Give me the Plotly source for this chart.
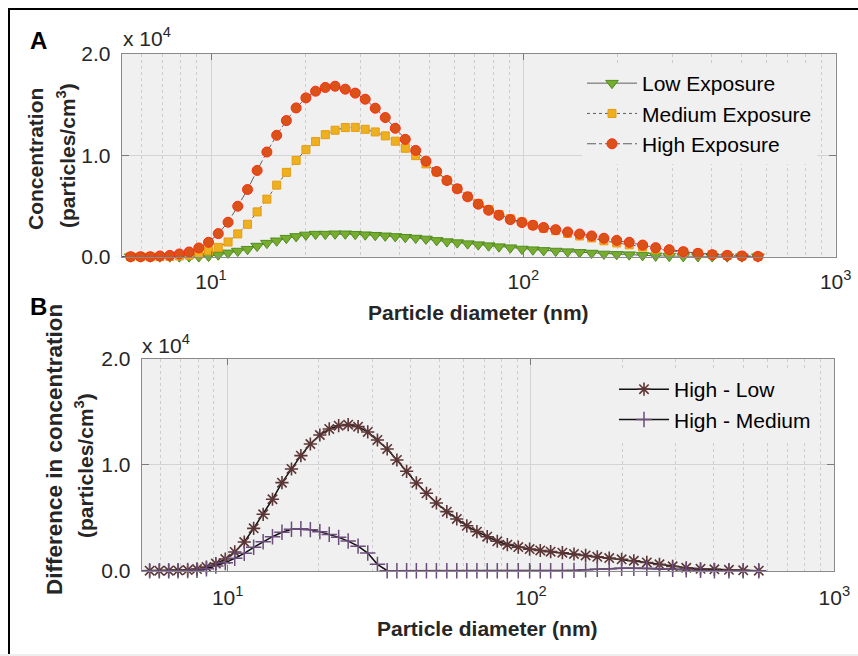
import plotly.graph_objects as go

# ---------------- data ----------------
diameter_nm = [5.15, 5.53, 5.95, 6.39, 6.86, 7.38, 7.92, 8.51, 9.14, 9.82,
               10.55, 11.34, 12.18, 13.09, 14.05, 15.10, 16.23, 17.43, 18.73, 20.13,
               21.62, 23.22, 24.96, 26.91, 28.96, 31.17, 33.56, 36.13, 38.90, 41.88,
               45.22, 48.77, 52.78, 56.93, 61.43, 66.32, 71.71, 77.42, 83.56, 90.80,
               98.97, 107.3, 116.1, 126.9, 138.6, 151.4, 165.4, 181.1, 199.0, 218.3,
               240.9, 265.2, 293.1, 325.0, 362.2, 402.4, 449.4, 500.8, 563.6]

low_exposure = [0, 0, 0, 0, 0, 0, 0, 0, 10, 60,
                190, 380, 560, 740, 1050, 1340, 1570, 1830, 2000, 2150,
                2230, 2230, 2260, 2260, 2220, 2170, 2120, 2060, 2000, 1920,
                1840, 1750, 1610, 1490, 1390, 1290, 1190, 1090, 990, 890,
                760, 690, 620, 560, 500, 430, 360, 270, 230, 200,
                130, 80, 50, 30, 20, 10, 0, 0, 0]

medium_exposure = [0, 0, 0, 0, 10, 30, 80, 150, 270, 590,
                   920, 1450, 2250, 3200, 4420, 5680, 7060, 8320, 9500, 10560,
                   11360, 12040, 12480, 12740, 12760, 12570, 12310, 11920, 11400, 10700,
                   9970, 9160, 8360, 7520, 6720, 5950, 5250, 4650, 4170, 3740,
                   3420, 3110, 2800, 2570, 2290, 2040, 1850, 1570, 1360, 1170,
                   950, 740, 590, 450, 330, 200, 130, 70, 30]

high_exposure = [0, 0, 0, 0, 70, 130, 270, 465, 860, 1420,
                 2280, 3400, 4980, 6630, 8510, 10330, 11980, 13430, 14680, 15670,
                 16330, 16700, 16820, 16530, 16140, 15540, 14650, 13730, 12670, 11580,
                 10490, 9430, 8410, 7520, 6700, 5910, 5180, 4580, 4090, 3660,
                 3370, 3100, 2880, 2670, 2440, 2240, 2050, 1820, 1610, 1420,
                 1150, 890, 690, 500, 330, 200, 130, 70, 30]

high_minus_low = [0, 0, 0, 0, 30, 60, 150, 340, 670, 1100,
                  1770, 2710, 4000, 5330, 6750, 8320, 9610, 10870, 11970, 12820,
                  13390, 13700, 13800, 13610, 13110, 12350, 11500, 10460, 9390, 8290,
                  7310, 6400, 5580, 4890, 4240, 3690, 3210, 2780, 2460, 2230,
                  2040, 1910, 1800, 1700, 1580, 1440, 1310, 1190, 1080, 940,
                  780, 600, 410, 270, 180, 130, 80, 40, 0]

high_minus_medium = [0, 0, 0, 0, 0, 20, 40, 190, 440, 760,
                     1170, 1640, 2210, 2740, 3210, 3630, 3910, 3960, 3880, 3690,
                     3430, 3150, 2800, 2320, 1670, 600, 0, 0, 0, 0,
                     0, 0, 0, 0, 0, 0, 0, 0, 0, 0,
                     0, 0, 0, 0, 30, 80, 140, 190, 220, 230,
                     220, 190, 140, 80, 30, 0, 0, 0, 0]

x_tick_vals = [10, 100, 1000]
x_tick_text = ["10<sup>1</sup>", "10<sup>2</sup>", "10<sup>3</sup>"]
x_minor_vals = [6, 7, 8, 9, 20, 30, 40, 50, 60, 70, 80, 90,
                200, 300, 400, 500, 600, 700, 800, 900]
y_tick_vals = [0, 10000, 20000]
y_tick_text = ["0.0", "1.0", "2.0"]

# ---------------- layout helpers ----------------
W, H = 858, 656
FONT = "Liberation Sans, Arial, sans-serif"
TXT = "#262626"
PLOT_BG = "#f0f0f0"


def px(x):
    return x / W


def py(y):
    return 1 - y / H


def x_axis(domain, rng, anchor, standoff):
    return dict(domain=domain, anchor=anchor, type="log", range=rng,
                tickmode="array", tickvals=x_tick_vals, ticktext=x_tick_text,
                ticks="inside", ticklen=6, tickcolor="#7a7a7a",
                showline=True, linecolor="#8a8a8a", linewidth=1, mirror="ticks",
                showgrid=True, gridcolor="#d4d4d4", gridwidth=1,
                minor=dict(tickmode="array", tickvals=x_minor_vals, showgrid=True,
                           gridcolor="#cccccc", griddash="dot", gridwidth=1, ticks=""),
                zeroline=False, tickfont=dict(family=FONT, size=21, color=TXT),
                ticklabelstandoff=standoff)


def y_axis(domain, anchor):
    return dict(domain=domain, anchor=anchor, range=[0, 20000],
                tickmode="array", tickvals=y_tick_vals, ticktext=y_tick_text,
                ticks="inside", ticklen=7, tickcolor="#7a7a7a",
                showline=True, linecolor="#8a8a8a", linewidth=1, mirror="ticks",
                showgrid=True, gridcolor="#d4d4d4", gridwidth=1,
                zeroline=False, tickfont=dict(family=FONT, size=21, color=TXT),
                ticklabelstandoff=6)


fig = go.Figure()

# ---------------- panel A ----------------
fig.add_trace(go.Scatter(
    x=diameter_nm, y=low_exposure, name="Low Exposure", mode="lines+markers",
    line=dict(color="#3a3a3a", width=0.8, dash="solid"),
    marker=dict(symbol="triangle-down", size=11, color="#77ac30",
                line=dict(color="#4e8d1e", width=1)),
    cliponaxis=False, xaxis="x", yaxis="y", legend="legend"))
fig.add_trace(go.Scatter(
    x=diameter_nm, y=medium_exposure, name="Medium Exposure", mode="lines+markers",
    line=dict(color="#3a3a3a", width=0.8, dash="dot"),
    marker=dict(symbol="square", size=8, color="#edb120",
                line=dict(color="#e89a10", width=1)),
    cliponaxis=False, xaxis="x", yaxis="y", legend="legend"))
fig.add_trace(go.Scatter(
    x=diameter_nm, y=high_exposure, name="High Exposure", mode="lines+markers",
    line=dict(color="#3a3a3a", width=0.8, dash="dashdot"),
    marker=dict(symbol="circle", size=10, color="#d95319",
                line=dict(color="#ff2a10", width=1)),
    cliponaxis=False, xaxis="x", yaxis="y", legend="legend"))

# ---------------- panel B ----------------
fig.add_trace(go.Scatter(
    x=diameter_nm, y=high_minus_low, name="High - Low", mode="lines+markers",
    line=dict(color="#111111", width=1.5),
    marker=dict(symbol="asterisk-open", size=11, color="#5c3636",
                line=dict(color="#5c3636", width=1.6)),
    cliponaxis=False, xaxis="x2", yaxis="y2", legend="legend2"))
fig.add_trace(go.Scatter(
    x=diameter_nm, y=high_minus_medium, name="High - Medium", mode="lines+markers",
    line=dict(color="#111111", width=1.5),
    marker=dict(symbol="cross-thin-open", size=11, color="#6b4c7a",
                line=dict(color="#6b4c7a", width=1.5)),
    cliponaxis=False, xaxis="x2", yaxis="y2", legend="legend2"))

A_x = [px(121.7), px(835.7)]
A_y = [py(256.7), py(54)]
B_x = [px(141.7), px(834.3)]
B_y = [py(570.7), py(359)]

annotations = [
    dict(text="<b>A</b>", x=px(38.5), y=py(40), xanchor="center", yanchor="middle",
         font=dict(family=FONT, size=24, color="black")),
    dict(text="<b>B</b>", x=px(38.5), y=py(306.5), xanchor="center", yanchor="middle",
         font=dict(family=FONT, size=24, color="black")),
    dict(text="x 10<sup>4</sup>", x=px(121), y=py(52), xanchor="left", yanchor="bottom",
         font=dict(family=FONT, size=21, color=TXT)),
    dict(text="x 10<sup>4</sup>", x=px(140), y=py(359), xanchor="left", yanchor="bottom",
         font=dict(family=FONT, size=21, color=TXT)),
    dict(text="<b>Concentration</b>", x=px(35), y=py(159), textangle=-90,
         xanchor="center", yanchor="middle", font=dict(family=FONT, size=21, color=TXT)),
    dict(text="<b>(particles/cm<sup>3</sup>)</b>", x=px(66), y=py(156), textangle=-90,
         xanchor="center", yanchor="middle", font=dict(family=FONT, size=21, color=TXT)),
    dict(text="<b>Difference in concentration</b>", x=px(54), y=py(450), textangle=-90,
         xanchor="center", yanchor="middle", font=dict(family=FONT, size=22.5, color=TXT)),
    dict(text="<b>(particles/cm<sup>3</sup>)</b>", x=px(84), y=py(466), textangle=-90,
         xanchor="center", yanchor="middle", font=dict(family=FONT, size=21, color=TXT)),
    dict(text="<b>Particle diameter (nm)</b>", x=px(478.5), y=py(313),
         xanchor="center", yanchor="middle", font=dict(family=FONT, size=21, color=TXT)),
    dict(text="<b>Particle diameter (nm)</b>", x=px(487.5), y=py(628),
         xanchor="center", yanchor="middle", font=dict(family=FONT, size=21, color=TXT)),
]
for a in annotations:
    a.update(xref="paper", yref="paper", showarrow=False)

shapes = [
    dict(type="line", x0=px(8), x1=1, y0=py(9), y1=py(9),
         line=dict(color="black", width=2)),
    dict(type="line", x0=px(9), x1=px(9), y0=py(8), y1=py(654),
         line=dict(color="black", width=2)),
    dict(type="line", x0=0, x1=1, y0=py(655), y1=py(655),
         line=dict(color="#dcdcdc", width=1)),
]
for s in shapes:
    s.update(xref="paper", yref="paper")

fig.update_layout(
    width=W, height=H,
    margin=dict(l=0, r=0, t=0, b=0, autoexpand=False),
    paper_bgcolor="white", plot_bgcolor=PLOT_BG,
    font=dict(family=FONT, color=TXT),
    xaxis=x_axis(A_x, [0.7141, 3], "y", 6),
    yaxis=y_axis(A_y, "x"),
    xaxis2=x_axis(B_x, [0.7165, 3], "y2", 8),
    yaxis2=y_axis(B_y, "x2"),
    showlegend=True,
    legend=dict(x=px(582), y=py(63), xanchor="left", yanchor="top",
                bgcolor=PLOT_BG, borderwidth=0, itemwidth=50,
                font=dict(family=FONT, size=21, color="black"), tracegroupgap=0),
    legend2=dict(x=px(614), y=py(369), xanchor="left", yanchor="top",
                 bgcolor=PLOT_BG, borderwidth=0, itemwidth=50,
                 font=dict(family=FONT, size=21, color="black"), tracegroupgap=0),
    annotations=annotations,
    shapes=shapes,
)

fig.write_html(
    "out.html",
    config={"displayModeBar": False},
    post_script="document.body.style.margin='0';document.body.style.overflow='hidden';"
                "document.documentElement.style.overflow='hidden';",
)
